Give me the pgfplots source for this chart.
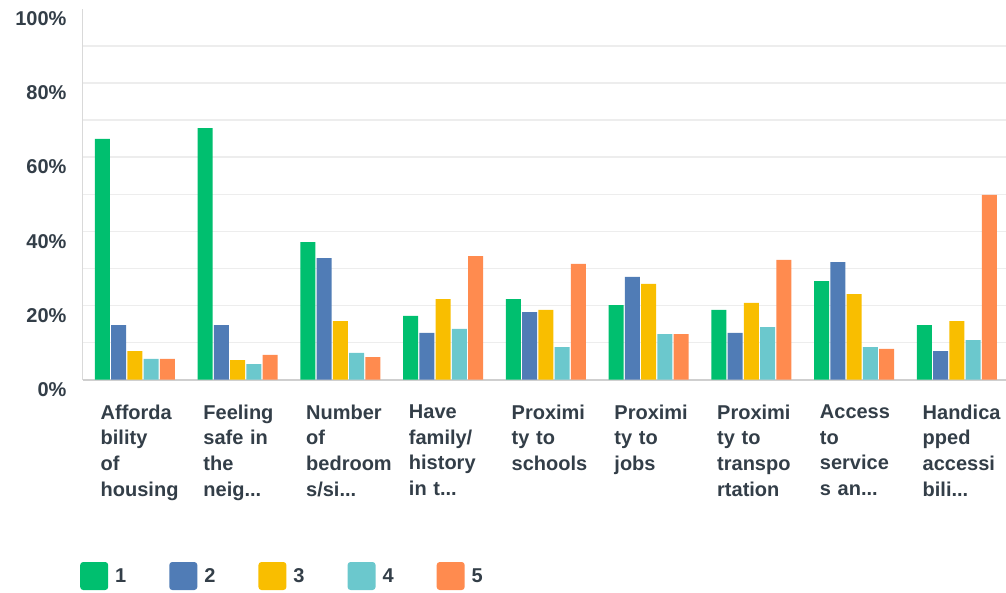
\documentclass[border=0pt]{standalone}
\usepackage{pgfplots}
\pgfplotsset{compat=1.18}
\usepackage{fontspec}
\setmainfont{Liberation Sans}
\definecolor{c1}{HTML}{00BF6F}
\definecolor{c2}{HTML}{507CB6}
\definecolor{c3}{HTML}{F9BE00}
\definecolor{c4}{HTML}{6BC8CD}
\definecolor{c5}{HTML}{FF8B4F}
\definecolor{txt}{HTML}{333E48}
\definecolor{gridc}{HTML}{EDEDED}
\newcommand\el{...}
\begin{document}
\begin{tikzpicture}
\useasboundingbox (-82.7pt,-212.3pt) rectangle (923.3pt,379.7pt);
\begin{axis}[
  scale only axis, width=923.3pt, height=371pt,
  at={(0,0)}, anchor=south west,
  xmin=-0.509, xmax=8.477, ymin=0, ymax=100,
  ybar=1.25pt, bar width=15pt,
  axis x line*=bottom, axis y line*=left,
  x axis line style={-, draw=black!19, line width=2.2pt},
  y axis line style={-, draw=black!15, line width=1.4pt},
  major tick length=0pt, minor tick length=0pt,
  xtick={0,1,2,3,4,5,6,7,8},
  xticklabels={{Afforda\\bility\\of\\housing},{Feeling\\safe in\\the\\neig\el},{Number\\of\\bedroom\\s/si\el},{Have\\family/\\history\\in t\el},{Proximi\\ty to\\schools},{Proximi\\ty to\\jobs},{Proximi\\ty to\\transpo\\rtation},{Access\\to\\service\\s an\el},{Handica\\pped\\accessi\\bili\el}},
  xticklabel style={font=\fontsize{20}{25.6}\selectfont\bfseries, text=txt, text width=95pt, align=left, anchor=north west, xshift=-34.5pt, yshift=-25pt, inner sep=0pt},
  ytick={0,20,40,60,80}, minor ytick={10,30,50,70,90},
  yticklabels={0\%,20\%,40\%,60\%,80\%},
  extra y ticks={100}, extra y tick labels={100\%},
  extra y tick style={grid=none},
  yticklabel style={font=\fontsize{20}{24}\selectfont\bfseries, text=txt, anchor=east, inner sep=0pt, xshift=-16pt, yshift=-10pt},
  ymajorgrids, yminorgrids,
  major grid style={draw=gridc, line width=1.4pt},
  minor grid style={draw=gridc, line width=1.4pt},
  legend entries={1,2,3,4,5},
  legend columns=5,
  legend image code/.code={\fill[#1, rounded corners=3pt] (0pt,-14pt) rectangle (28pt,14pt);},
  legend style={draw=none, fill=none, inner sep=0pt, at={(0,0)}, anchor=west, xshift=-2.7pt, yshift=-196.3pt,
    font=\fontsize{20}{24}\selectfont\bfseries, text=txt,
    nodes={inner sep=0pt},
    /tikz/every odd column/.append style={column sep=7pt},
    /tikz/every even column/.append style={column sep=43pt}},
]
\addplot[fill=c1, draw=none] coordinates {(0,64.9) (1,67.8) (2,37.1) (3,17.2) (4,21.7) (5,20.1) (6,18.8) (7,26.6) (8,14.7)};
\addplot[fill=c2, draw=none] coordinates {(0,14.7) (1,14.7) (2,32.8) (3,12.6) (4,18.2) (5,27.7) (6,12.6) (7,31.7) (8,7.7)};
\addplot[fill=c3, draw=none] coordinates {(0,7.7) (1,5.3) (2,15.8) (3,21.7) (4,18.8) (5,25.8) (6,20.7) (7,23.1) (8,15.8)};
\addplot[fill=c4, draw=none] coordinates {(0,5.6) (1,4.2) (2,7.2) (3,13.7) (4,8.8) (5,12.3) (6,14.2) (7,8.8) (8,10.7)};
\addplot[fill=c5, draw=none] coordinates {(0,5.6) (1,6.7) (2,6.1) (3,33.3) (4,31.2) (5,12.3) (6,32.3) (7,8.3) (8,49.8)};
\end{axis}
\end{tikzpicture}
\end{document}
